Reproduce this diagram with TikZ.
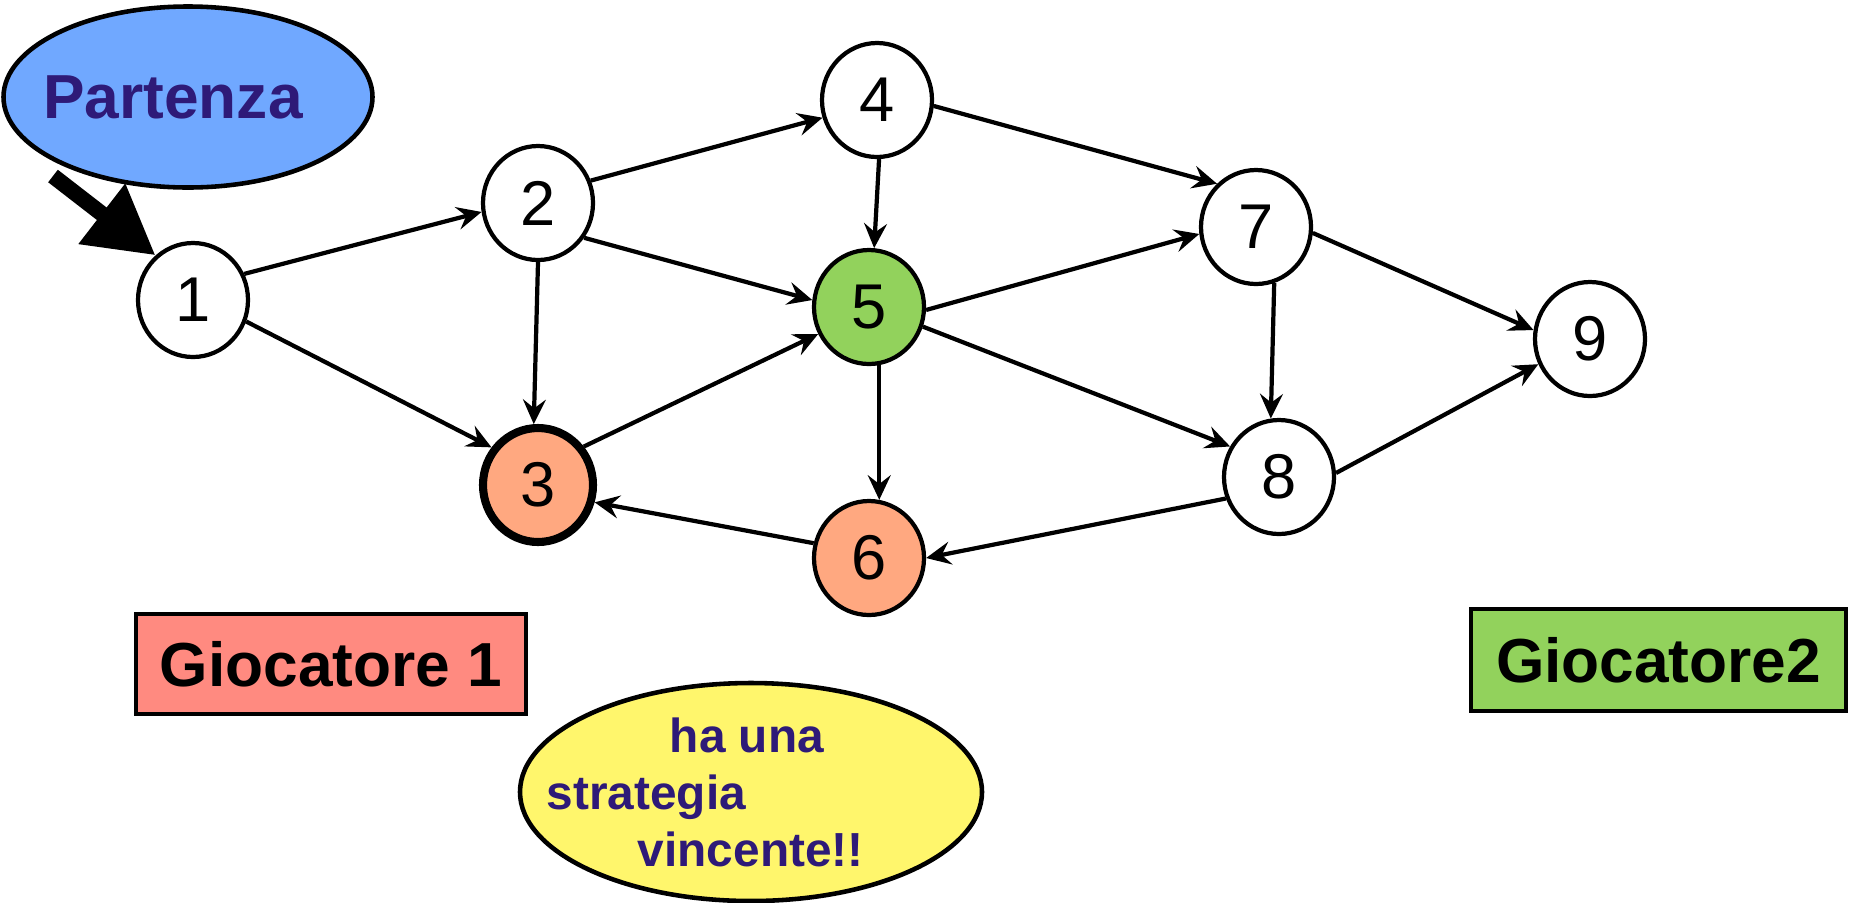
\documentclass[tikz,border=0pt]{standalone}
\usepackage{fontspec}
\setmainfont{Liberation Sans}
\usetikzlibrary{arrows.meta,shapes.geometric}
\definecolor{startblue}{RGB}{112,168,255}
\definecolor{darkpurple}{RGB}{46,26,120}
\definecolor{wingreen}{RGB}{146,210,92}
\definecolor{loseorange}{RGB}{255,168,128}
\definecolor{playerred}{RGB}{255,138,128}
\definecolor{noteyellow}{RGB}{255,246,108}
\tikzset{
  vtx/.style = {ellipse, draw=black, line width=1.2pt, inner sep=0pt,
    minimum width=1.1cm, minimum height=1.14cm,
    font=\fontsize{18}{20}\selectfont},
  vtx_n/.style = {vtx, fill=white},
  vtx_g/.style = {vtx, fill=wingreen},
  vtx_o/.style = {vtx, fill=loseorange},
  oval/.style = {ellipse, draw=black, line width=1.3pt, inner sep=0pt},
  player/.style = {rectangle, draw=black, line width=1.3pt,
    font=\bfseries\fontsize{17.7}{20}\selectfont}
}

\begin{document}
\begin{tikzpicture}[->,>={Stealth[length=7pt,width=6.5pt,inset=2.5pt]},
  line width=1.2pt]
\useasboundingbox (0,0) rectangle (18.54,9.02);

% vertici del grafo
\node [vtx_n] (n1) at (1.93,6.02) {1};
\node [vtx_n] (n2) at (5.38,6.99) {2};
\node [vtx_o, line width=2.3pt] (n3) at (5.38,4.17) {3};
\node [vtx_n] (n4) at (8.77,8.02) {4};
\node [vtx_g] (n5) at (8.69,5.95) {5};
\node [vtx_o] (n6) at (8.69,3.44) {6};
\node [vtx_n] (n7) at (12.56,6.75) {7};
\node [vtx_n] (n8) at (12.79,4.25) {8};
\node [vtx_n] (n9) at (15.90,5.63) {9};

% mosse: da/angolo uscita/a/angolo arrivo
\foreach \a/\sa/\b/\sb in {1/27/2/189, 1/-22/3/141, 2/23/4/198, 2/-37/5/173,
    2/-90/3/94, 4/-6/7/132, 4/-88/5/85, 3/40/5/208, 5/-3/7/187, 5/-20/8/148,
    5/-80/6/80, 7/-6/9/171, 7/-72/8/98, 8/4/9/206, 8/202/6/0, 6/165/3/-17}
  \draw (n\a.\sa) -- (n\b.\sb);

% partenza
\node [oval, fill=startblue, minimum width=3.69cm, minimum height=1.81cm]
  (start) at (1.88,8.05) {};
\node [text=darkpurple, font=\bfseries\fontsize{17.7}{20}\selectfont]
  (start_txt) at ([xshift=-0.15cm]start.center) {Partenza};
\coordinate (start_tail) at ([shift={(-1.35,-0.79)}]start.center);
\draw [line width=4.5pt, -{Triangle[length=0.68cm,width=0.72cm]}]
  (start_tail) -- (n1.130);

% giocatori
\node [player, fill=playerred, minimum width=3.9cm, minimum height=1cm]
  (p1) at (3.31,2.38) {Giocatore 1};
\node [player, fill=wingreen, minimum width=3.75cm, minimum height=1.02cm]
  (p2) at (16.585,2.42) {Giocatore2};

% nota
\node [oval, fill=noteyellow, minimum width=4.62cm, minimum height=2.18cm]
  (win) at (7.51,1.10) {};
\node [anchor=west, align=left, text=darkpurple,
  font=\bfseries\fontsize{13.6}{16.2}\selectfont]
  (win_txt) at ([xshift=-2.18cm]win.center)
  {\hspace*{1.23cm}ha una\\strategia\\\hspace*{0.91cm}vincente!!};
\end{tikzpicture}
\end{document}
